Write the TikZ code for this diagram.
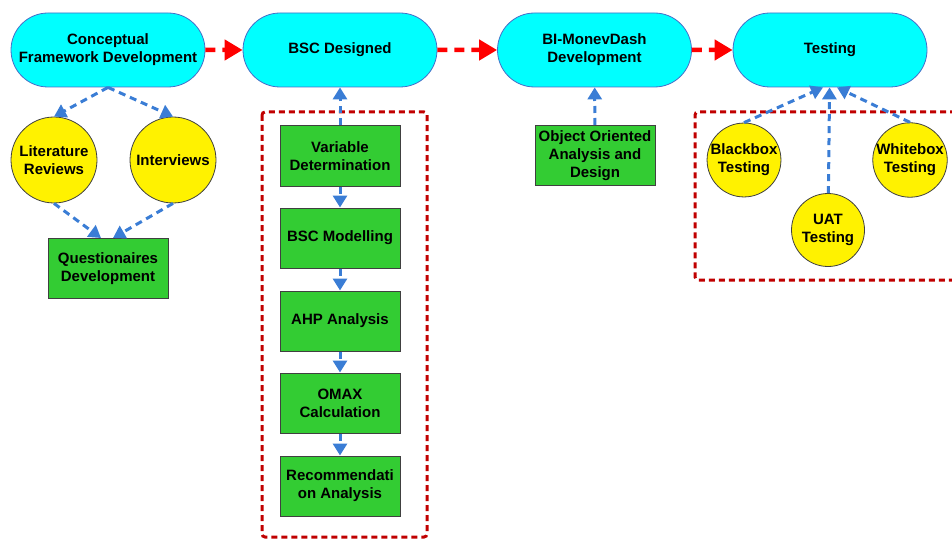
\documentclass[tikz,border=0pt]{standalone}
\usepackage{fontspec}
\setmainfont{Liberation Sans}
\usetikzlibrary{arrows.meta,positioning,shapes.misc}

\definecolor{stagecyan}{RGB}{0,255,255}
\definecolor{stageedge}{RGB}{70,110,200}
\definecolor{taskgreen}{RGB}{51,204,51}
\definecolor{flowblue}{RGB}{58,125,213}
\definecolor{groupred}{RGB}{192,0,0}

\tikzset{
	stage/.style={shape=rounded rectangle, draw=stageedge, fill=stagecyan, line width=0.8pt,
		minimum width=194pt, minimum height=74pt, inner sep=0pt, align=center},
	task/.style={shape=rectangle, draw=black!75, fill=taskgreen, line width=1pt,
		minimum width=120pt, minimum height=60pt, inner sep=0pt, align=center},
	source/.style={shape=circle, draw=black!75, fill=yellow, line width=0.8pt,
		minimum size=86pt, inner sep=0pt, align=center},
	check/.style={shape=circle, draw=black!75, fill=yellow, line width=0.8pt,
		minimum size=73pt, inner sep=0pt, align=center},
	flow/.style={draw=flowblue, line width=3pt, dash pattern=on 7pt off 5pt,
		-{Triangle[length=12pt,width=14pt]}},
	next/.style={draw=red, line width=4.5pt, dash pattern=on 10pt off 7pt,
		-{Triangle[length=18pt,width=20pt]}},
	group/.style={draw=groupred, line width=3pt, dash pattern=on 6pt off 4pt, rounded corners=3pt}
}

\begin{document}
\begin{tikzpicture}[x=1pt,y=-1pt,font=\fontsize{15}{18}\selectfont\bfseries]
	\useasboundingbox (0,0) rectangle (952,540);
	% dotted groups
	\draw[group] (262,112) rectangle (427,537);
	\draw[group] (956,112) -- (695,112) -- (695,280) -- (956,280);
	% main stages
	\path (108,50) node (concept) [stage] {Conceptual\\Framework Development}
		  (340,50) node (bsc) [stage] {BSC Designed}
		  (594.5,50) node (monev) [stage] {BI-MonevDash\\Development}
		  (830,50) node (testing) [stage] {Testing};
	% conceptual framework
	\path (54,160) node (litrev) [source] {Literature\\Reviews}
		  (173,160) node (interview) [source] {Interviews}
		  (108,268.5) node (quest) [task] {Questionaires\\Development};
	% bsc design steps
	\path (340,156) node (vardet) [task] {Variable\\Determination}
		  (340,238) node (bscmod) [task] {BSC Modelling}
		  (340,321) node (ahp) [task] {AHP Analysis}
		  (340,403) node (omax) [task] {OMAX\\Calculation}
		  (340,486) node (recom) [task] {Recommendati\\on Analysis};
	% dashboard
	\path (595,155.5) node (ooad) [task] {Object Oriented\\Analysis and\\Design};
	% testing
	\path (744,160) node (blackbox) [check] {Blackbox\\Testing}
		  (910,160) node (whitebox) [check] {Whitebox\\Testing}
		  (828,230) node (uat) [check] {UAT\\Testing};
	\draw[next] (concept) -- (bsc);
	\draw[next] (bsc) -- (monev);
	\draw[next] (monev) -- (testing);
	\draw[flow] (concept.south) -- (litrev.north);
	\draw[flow] (concept.south) -- (interview.north);
	\draw[flow] (litrev.south) -- ([xshift=-7pt]quest.north);
	\draw[flow] (interview.south) -- ([xshift=5pt]quest.north);
	\draw[flow] (vardet) -- (bsc);
	\draw[flow] (vardet) -- (bscmod);
	\draw[flow] (bscmod) -- (ahp);
	\draw[flow] (ahp) -- (omax);
	\draw[flow] (omax) -- (recom);
	\draw[flow] (ooad) -- (monev);
	\draw[flow] (blackbox.north) -- ([xshift=-7pt]testing.south);
	\draw[flow] (uat) -- (testing);
	\draw[flow] (whitebox.north) -- ([xshift=7pt]testing.south);
\end{tikzpicture}
\end{document}
